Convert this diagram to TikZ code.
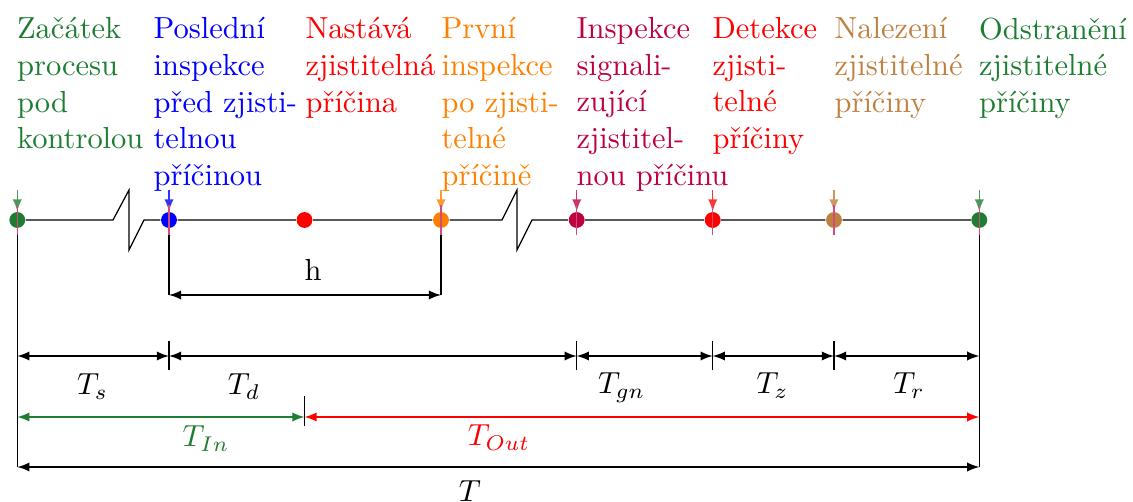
\documentclass[tikz,border=0pt]{standalone}
\usepackage{fontspec}
\usetikzlibrary{arrows}

\definecolor{zelena}{RGB}{30,125,50}

\begin{document}
\begin{tikzpicture}[x=0.328pt, y=-0.328pt,
        ev/.style={circle, inner sep=0pt, minimum size=5.2pt},
        lbl/.style={anchor=north west, inner sep=0pt, align=left},
        dim/.style={latex-latex},
        val/.style={anchor=base}]
    \useasboundingbox (0,0) rectangle (1133,502);

    % radky kot
    \coordinate (rh) at (0,295);
    \coordinate (r1) at (0,356);
    \coordinate (r2) at (0,417);
    \coordinate (r3) at (0,467);

    % zlomy osy
    \coordinate (z1a) at (113,220);
    \coordinate (z1b) at (129,190);
    \coordinate (z1c) at (129,250);
    \coordinate (z1d) at (144,220);
    \coordinate (z2a) at (502,220);
    \coordinate (z2b) at (517,190);
    \coordinate (z2c) at (517,250);
    \coordinate (z2d) at (532,220);

    % udalosti
    \node[ev] (zac) at (17.3,220) {};
    \node[ev] (posl) at (169,220) {};
    \node[ev] (vzn) at (304.5,220) {};
    \node[ev] (prv) at (441,220) {};
    \node[ev] (sig) at (576.7,220) {};
    \node[ev] (det) at (712.7,220) {};
    \node[ev] (nal) at (834,220) {};
    \node[ev] (odst) at (979.3,220) {};

    % casova osa
    \draw (zac) -- (z1a) -- (z1b) -- (z1c) -- (z1d) -- (posl) -- (vzn) -- (prv)
        -- (z2a) -- (z2b) -- (z2c) -- (z2d) -- (sig) -- (det) -- (nal) -- (odst);

    % vynasecky
    \draw (zac) -- (zac |- r3);
    \draw (odst) -- (odst |- r3);
    \draw (posl) -- (posl |- rh);
    \draw (prv) -- (prv |- rh);

    % popisky udalosti
    \node[lbl, text=zelena] (tzac) at (16.5,17) {Začátek\\procesu\\pod\\kontrolou};
    \node[lbl, text=blue] (tposl) at (153,17) {Poslední\\inspekce\\před zjisti-\\telnou\\příčinou};
    \node[lbl, text=red] (tvzn) at (305,17) {Nastává\\zjistitelná\\příčina};
    \node[lbl, text=orange] (tprv) at (441,17) {První\\inspekce\\po zjisti-\\telné\\příčině};
    \node[lbl, text=purple] (tsig) at (576,17) {Inspekce\\signali-\\zující\\zjistitel-\\nou příčinu};
    \node[lbl, text=red] (tdet) at (712,17) {Detekce\\zjisti-\\telné\\příčiny};
    \node[lbl, text=brown] (tnal) at (834,17) {Nalezení\\zjistitelné\\příčiny};
    \node[lbl, text=zelena] (todst) at (978.5,17) {Odstranění\\zjistitelné\\příčiny};

    % znacky na ose
    \draw[-latex, zelena!80] ([yshift=7pt]zac.north) -- (zac.north);
    \draw[-latex, blue!80] ([yshift=7pt]posl.north) -- (posl.north);
    \draw[-latex, orange!80] ([yshift=7pt]prv.north) -- (prv.north);
    \draw[-latex, purple!80] ([yshift=7pt]sig.north) -- (sig.north);
    \draw[-latex, red!80] ([yshift=7pt]det.north) -- (det.north);
    \draw[-latex, brown!80] ([yshift=7pt]nal.north) -- (nal.north);
    \draw[-latex, zelena!80] ([yshift=7pt]odst.north) -- (odst.north);
    \node[ev, fill=zelena] at (zac) {};
    \node[ev, fill=blue] at (posl) {};
    \node[ev, fill=red] at (vzn) {};
    \node[ev, fill=orange] at (prv) {};
    \node[ev, fill=purple] at (sig) {};
    \node[ev, fill=red] at (det) {};
    \node[ev, fill=brown] at (nal) {};
    \node[ev, fill=zelena] at (odst) {};
    \draw[purple!70] ([yshift=4.9pt]zac.center) -- ([yshift=-4.9pt]zac.center);
    \draw[purple!70] ([yshift=4.9pt]posl.center) -- ([yshift=-4.9pt]posl.center);
    \draw[purple!70] ([yshift=4.9pt]prv.center) -- ([yshift=-4.9pt]prv.center);
    \draw[purple!70] ([yshift=4.9pt]sig.center) -- ([yshift=-4.9pt]sig.center);
    \draw[purple!70] ([yshift=4.9pt]det.center) -- ([yshift=-4.9pt]det.center);
    \draw[purple!70] ([yshift=4.9pt]nal.center) -- ([yshift=-4.9pt]nal.center);
    \draw[purple!70] ([yshift=4.9pt]odst.center) -- ([yshift=-4.9pt]odst.center);

    % kota h
    \draw[dim] (posl |- rh) -- (prv |- rh);
    \node[val] (h) at (313,281) {h};

    % prvni rada kot
    \draw[dim] (zac |- r1) -- (posl |- r1);
    \draw[dim] (posl |- r1) -- (sig |- r1);
    \draw[dim] (sig |- r1) -- (det |- r1);
    \draw[dim] (det |- r1) -- (nal |- r1);
    \draw[dim] (nal |- r1) -- (odst |- r1);
    \draw (posl |- r1) ++(0,-14.5) -- ++(0,29);
    \draw (sig |- r1) ++(0,-14.5) -- ++(0,29);
    \draw (det |- r1) ++(0,-14.5) -- ++(0,29);
    \draw (nal |- r1) ++(0,-14.5) -- ++(0,29);
    \node[val] (ts) at (92.5,395) {$T_s$};
    \node[val] (td) at (244,395) {$T_d$};
    \node[val] (tgn) at (621.7,394) {$T_{gn}$};
    \node[val] (tz) at (772.5,394) {$T_z$};
    \node[val] (tr) at (909,394) {$T_r$};

    % druha rada kot
    \draw[dim, zelena] (zac |- r2) -- (vzn |- r2);
    \draw[dim, red] (vzn |- r2) -- (odst |- r2);
    \draw (vzn |- r2) ++(0,-21) -- ++(0,30);
    \node[val, text=zelena] (tin) at (206,447) {$T_{In}$};
    \node[val, text=red] (tout) at (499,446) {$T_{Out}$};

    % celkova doba
    \draw[dim] (zac |- r3) -- (odst |- r3);
    \node[val] (t) at (470,501.5) {$T$};
\end{tikzpicture}
\end{document}
